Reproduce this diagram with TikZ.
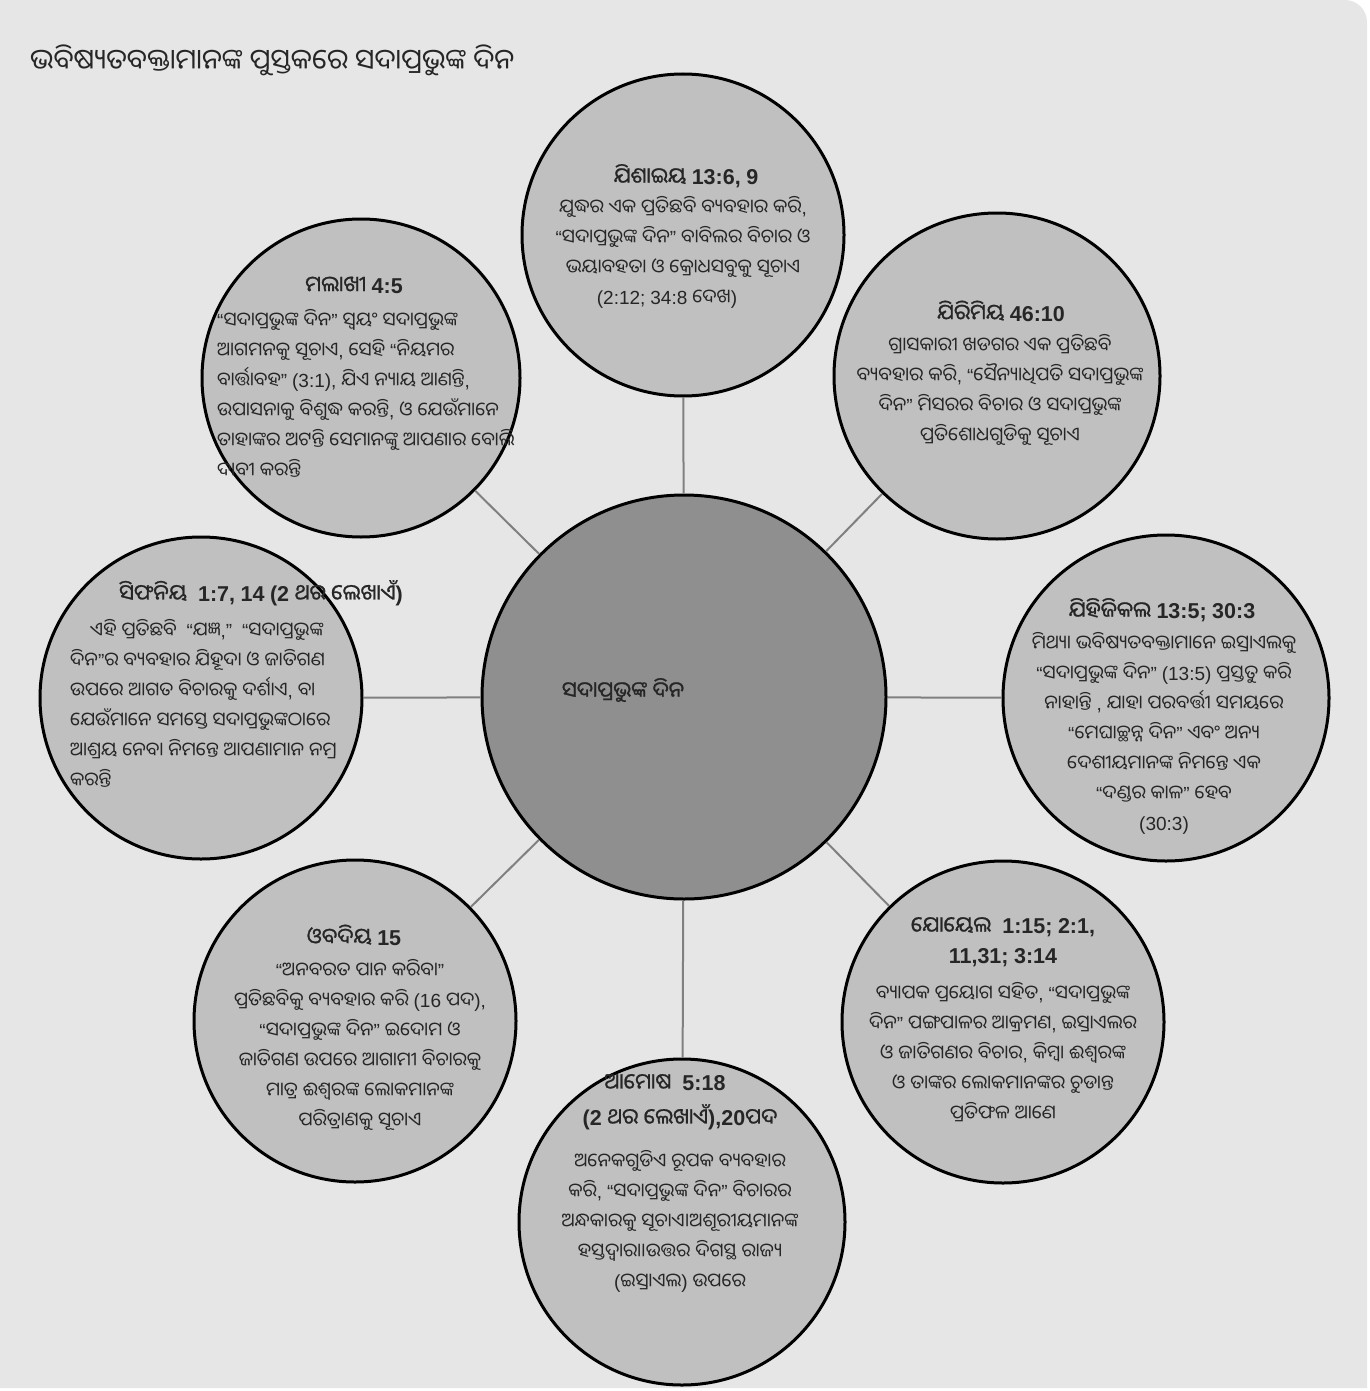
\documentclass[tikz,border=0pt]{standalone}
\usepackage{fontspec}
\setmainfont[Script=Oriya,AutoFakeBold=1.0]{Noto Sans Oriya UI}
\newfontfamily\latinfont{Liberation Sans}
\XeTeXinterchartokenstate=1
\newXeTeXintercharclass\latincls
\count255=`0
\loop\XeTeXcharclass\count255=\latincls\ifnum\count255<`9 \advance\count255 by 1 \repeat
\XeTeXcharclass`\:=\latincls
\XeTeXcharclass`\;=\latincls
\XeTeXcharclass`\,=\latincls
\XeTeXcharclass`\.=\latincls
\XeTeXcharclass`\(=\latincls
\XeTeXcharclass`\)=\latincls
\XeTeXcharclass"201C=\latincls
\XeTeXcharclass"201D=\latincls
\XeTeXinterchartoks 0 \latincls = {\begingroup\latinfont}
\XeTeXinterchartoks 4095 \latincls = {\begingroup\latinfont}
\XeTeXinterchartoks \latincls 0 = {\endgroup}
\XeTeXinterchartoks \latincls 4095 = {\endgroup}
\definecolor{bgc}{HTML}{E6E6E6}
\definecolor{satc}{HTML}{C0C0C0}
\definecolor{midc}{HTML}{8F8F8F}
\definecolor{linec}{HTML}{808080}
\definecolor{txtc}{HTML}{262626}
\tikzset{
  sat/.style={circle,draw=black,line width=3pt,fill=satc,inner sep=0pt,minimum size=#1},
  hub/.style={circle,draw=black,line width=3pt,fill=midc,inner sep=0pt,minimum size=404pt},
  conn/.style={draw=linec,line width=2pt},
  head/.style={text=txtc,inner sep=0pt,align=center,font=\bfseries\fontsize{21.5}{30}\selectfont},
  body/.style={text=txtc,inner sep=0pt,align=center,anchor=north,font=\fontsize{19}{30}\selectfont},
  bodyl/.style={text=txtc,inner sep=0pt,align=left,anchor=north west,font=\fontsize{19}{30}\selectfont}
}
\begin{document}
\begin{tikzpicture}[x=1pt,y=1pt]
\useasboundingbox (0,-1391) rectangle (1369,0);
\fill[bgc] (0,0) -- (1345,0) arc[start angle=90,end angle=0,radius=22] -- (1367,-1388) -- (0,-1388) -- cycle;
\node[text=txtc,inner sep=0pt,anchor=west,font=\fontsize{28}{30}\selectfont] (title) at (30,-60) {ଭବିଷ୍ୟତବକ୍ତାମାନଙ୍କ ପୁସ୍ତକରେ ସଦାପ୍ରଭୁଙ୍କ ଦିନ};
% circles
\node[hub] (hub) at (684,-697) {};
\node[sat=322pt] (isa) at (683,-235) {};
\node[sat=326pt] (jer) at (997,-376) {};
\node[sat=326pt] (eze) at (1166,-698) {};
\node[sat=322pt] (joe) at (1003,-1022) {};
\node[sat=326pt] (amo) at (682,-1222) {};
\node[sat=322pt] (oba) at (355,-1021) {};
\node[sat=322pt] (zep) at (201,-698) {};
\node[sat=318pt] (mal) at (361,-378) {};
% connectors
\foreach \s in {isa,jer,eze,joe,amo,oba,zep,mal}{\draw[conn] (hub) -- (\s);}
% hub label
\node[text=txtc,inner sep=0pt,font=\bfseries\fontsize{21.5}{30}\selectfont] (hublab) at (623,-690) {ସଦାପ୍ରଭୁଙ୍କ ଦିନ};
% Isaiah
\node[head] (isah) at (686,-176) {ଯିଶାଇୟ 13:6, 9};
\node[body] (isab) at (683,-196) {ଯୁଦ୍ଧର ଏକ ପ୍ରତିଛବି ବ୍ୟବହାର କରି,\\“ସଦାପ୍ରଭୁଙ୍କ ଦିନ” ବାବିଲର ବିଚାର ଓ\\ଭୟାବହତା ଓ କ୍ରୋଧସବୁକୁ ସୂଚାଏ\\(2:12; 34:8 ଦେଖ)\hspace*{32pt}};
% Malachi
\node[head] (malh) at (354,-285) {ମଲାଖୀ 4:5};
\node[bodyl] (malb) at (217,-309) {“ସଦାପ୍ରଭୁଙ୍କ ଦିନ” ସ୍ୱୟଂ ସଦାପ୍ରଭୁଙ୍କ\\ଆଗମନକୁ ସୂଚାଏ, ସେହି “ନିୟମର\\ବାର୍ତ୍ତାବହ” (3:1), ଯିଏ ନ୍ୟାୟ ଆଣନ୍ତି,\\ଉପାସନାକୁ ବିଶୁଦ୍ଧ କରନ୍ତି, ଓ ଯେଉଁମାନେ\\ତାହାଙ୍କର ଅଟନ୍ତି ସେମାନଙ୍କୁ ଆପଣାର ବୋଲି\\ଦାବୀ କରନ୍ତି};
% Jeremiah
\node[head] (jerh) at (1001,-311) {ଯିରିମିୟ 46:10};
\node[body] (jerb) at (1000,-334) {ଗ୍ରାସକାରୀ ଖଡଗର ଏକ ପ୍ରତିଛବି\\ବ୍ୟବହାର କରି, “ସୈନ୍ୟାଧିପତି ସଦାପ୍ରଭୁଙ୍କ\\ଦିନ” ମିସରର ବିଚାର ଓ ସଦାପ୍ରଭୁଙ୍କ\\ପ୍ରତିଶୋଧଗୁଡିକୁ ସୂଚାଏ};
% Zephaniah
\node[head] (zeph) at (261,-593) {ସିଫନିୟ \ 1:7, 14 (2 ଥର ଲେଖାଏଁ)};
\node[bodyl] (zepb) at (70,-619) {\hspace*{20pt}ଏହି ପ୍ରତିଛବି \ “ଯଜ୍ଞ,” \ “ସଦାପ୍ରଭୁଙ୍କ\\ଦିନ”ର ବ୍ୟବହାର ଯିହୂଦା ଓ ଜାତିଗଣ\\ଉପରେ ଆଗତ ବିଚାରକୁ ଦର୍ଶାଏ, ବା\\ଯେଉଁମାନେ ସମସ୍ତେ ସଦାପ୍ରଭୁଙ୍କଠାରେ\\ଆଶ୍ରୟ ନେବା ନିମନ୍ତେ ଆପଣାମାନ ନମ୍ର\\କରନ୍ତି};
% Ezekiel
\node[head] (ezeh) at (1162,-610) {ଯିହିଜିକଲ 13:5; 30:3};
\node[body] (ezeb) at (1164,-632) {ମିଥ୍ୟା ଭବିଷ୍ୟତବକ୍ତାମାନେ ଇସ୍ରାଏଲକୁ\\“ସଦାପ୍ରଭୁଙ୍କ ଦିନ” (13:5) ପ୍ରସ୍ତୁତ କରି\\ନାହାନ୍ତି , ଯାହା ପରବର୍ତ୍ତୀ ସମୟରେ\\“ମେଘାଚ୍ଛନ୍ନ ଦିନ” ଏବଂ ଅନ୍ୟ\hspace*{36pt}\\ଦେଶୀୟମାନଙ୍କ ନିମନ୍ତେ ଏକ\\“ଦଣ୍ଡର କାଳ” ହେବ\\(30:3)};
% Joel
\node[head] (joeh) at (1003,-942) {ଯୋୟେଲ \ 1:15; 2:1,\\11,31; 3:14};
\node[body] (joeb) at (1003,-982) {ବ୍ୟାପକ ପ୍ରୟୋଗ ସହିତ, “ସଦାପ୍ରଭୁଙ୍କ\\ଦିନ” ପଙ୍ଗପାଳର ଆକ୍ରମଣ, ଇସ୍ରାଏଲର\\ଓ ଜାତିଗଣର ବିଚାର, କିମ୍ବା ଈଶ୍ୱରଙ୍କ\\ଓ ତାଙ୍କର ଲୋକମାନଙ୍କର ଚୁଡାନ୍ତ\\ପ୍ରତିଫଳ ଆଣେ};
% Obadiah
\node[head] (obah) at (354,-935) {ଓବଦିୟ 15};
\node[body] (obab) at (360,-959) {“ଅନବରତ ପାନ କରିବା”\\ପ୍ରତିଛବିକୁ ବ୍ୟବହାର କରି (16 ପଦ),\\“ସଦାପ୍ରଭୁଙ୍କ ଦିନ” ଇଦୋମ ଓ\\ଜାତିଗଣ ଉପରେ ଆଗାମୀ ବିଚାରକୁ\\ମାତ୍ର ଈଶ୍ୱରଙ୍କ ଲୋକମାନଙ୍କ\\ପରିତ୍ରାଣକୁ ସୂଚାଏ};
% Amos
\node[head,font=\bfseries\fontsize{21.5}{35}\selectfont] (amoh) at (680,-1102) {ଆମୋଷ \ 5:18\hspace*{30pt}\\(2 ଥର ଲେଖାଏଁ),20ପଦ};
\node[body] (amob) at (680,-1150) {ଅନେକଗୁଡିଏ ରୂପକ ବ୍ୟବହାର\\କରି, “ସଦାପ୍ରଭୁଙ୍କ ଦିନ” ବିଚାରର\\ଅନ୍ଧକାରକୁ ସୂଚାଏ।ଅଶୂରୀୟମାନଙ୍କ\\ହସ୍ତଦ୍ୱାରା।ଉତ୍ତର ଦିଗସ୍ଥ ରାଜ୍ୟ\\(ଇସ୍ରାଏଲ) ଉପରେ};
\end{tikzpicture}
\end{document}
